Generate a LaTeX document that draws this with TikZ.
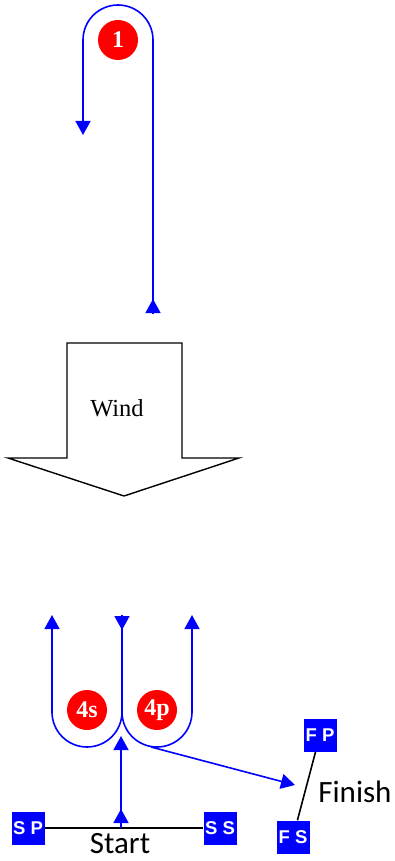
\documentclass[tikz,border=0pt]{standalone}
\usepackage{fontspec}
\setmainfont{Liberation Serif}
\newfontfamily\carl{Carlito}
\newfontfamily\arl{Liberation Sans}
\usetikzlibrary{arrows.meta}
\begin{document}
\begin{tikzpicture}[x=1pt,y=-1pt,
  bl/.style={draw={rgb,255:red,0;green,0;blue,255},line width=1.6pt},
  tip/.style={-{Triangle[width=15pt,length=14pt]}},
  blk/.style={draw=black,line width=1.6pt},
  rmark/.style={circle,fill=red,minimum size=40pt,inner sep=0pt,text=white,font=\fontsize{24}{26}\selectfont\bfseries},
  buoy/.style={fill={rgb,255:red,0;green,0;blue,255},minimum size=33pt,inner sep=0pt,text=white,font=\arl\fontsize{18.5}{20}\selectfont\bfseries},
  lbl/.style={font=\carl\fontsize{31}{33}\selectfont,inner sep=0pt}]
\useasboundingbox (0,0) rectangle (395,861);
% wind arrow
\draw[blk,line width=1.4pt,line join=miter] (67,343) -- (182,343) -- (182,458) -- (239,458) -- (124,496) -- (8,458) -- (67,458) -- cycle;
\node (wind) at (117,408) {\fontsize{24.5}{27}\selectfont Wind};
% top loop
\node[rmark] (m1) at (118,40) {1};
\coordinate (t0) at (153,313);
\coordinate (t1) at (153,299);
\coordinate (t2) at (83,135);
\draw[bl,tip] (t0) -- (153,40) arc (0:-180:35) -- (t2);
\draw[bl,tip] (t0) -- (t1);
% bottom marks
\node[rmark] (m4s) at (87,710) {4s};
\node[rmark] (m4p) at (157,710) {4p};
\coordinate (c0) at (122,615);
\coordinate (c1) at (122,630);
\coordinate (l0) at (52,615);
\coordinate (r0) at (192,615);
\draw[bl,tip] (c0) -- (122,712) arc (0:180:35) -- (l0);
\draw[bl,tip] (122,712) arc (180:0:35) -- (r0);
\draw[bl,tip] (c0) -- (c1);
% buoys
\node[buoy] (sp) at (28,828) {S P};
\node[buoy] (ss) at (220,828) {S S};
\node[buoy] (fp) at (320,735) {F P};
\node[buoy] (fs) at (293,837) {F S};
\draw[blk] (sp) -- (ss);
\draw[blk] (fp) -- (fs);
\node[lbl] (start) at (120,844) {Start};
\node[lbl] (finish) at (355,792) {Finish};
% start leg
\coordinate (s0) at (121,828);
\coordinate (s1) at (121,809);
\coordinate (s2) at (121,823);
\coordinate (s3) at (121,736);
\draw[bl,tip] (s0) -- (s3);
\draw[bl,tip] (s2) -- (s1);
% to finish
\coordinate (f0) at (151,747);
\coordinate (f1) at (295,785);
\draw[bl,tip] (f0) -- (f1);
\end{tikzpicture}
\end{document}
